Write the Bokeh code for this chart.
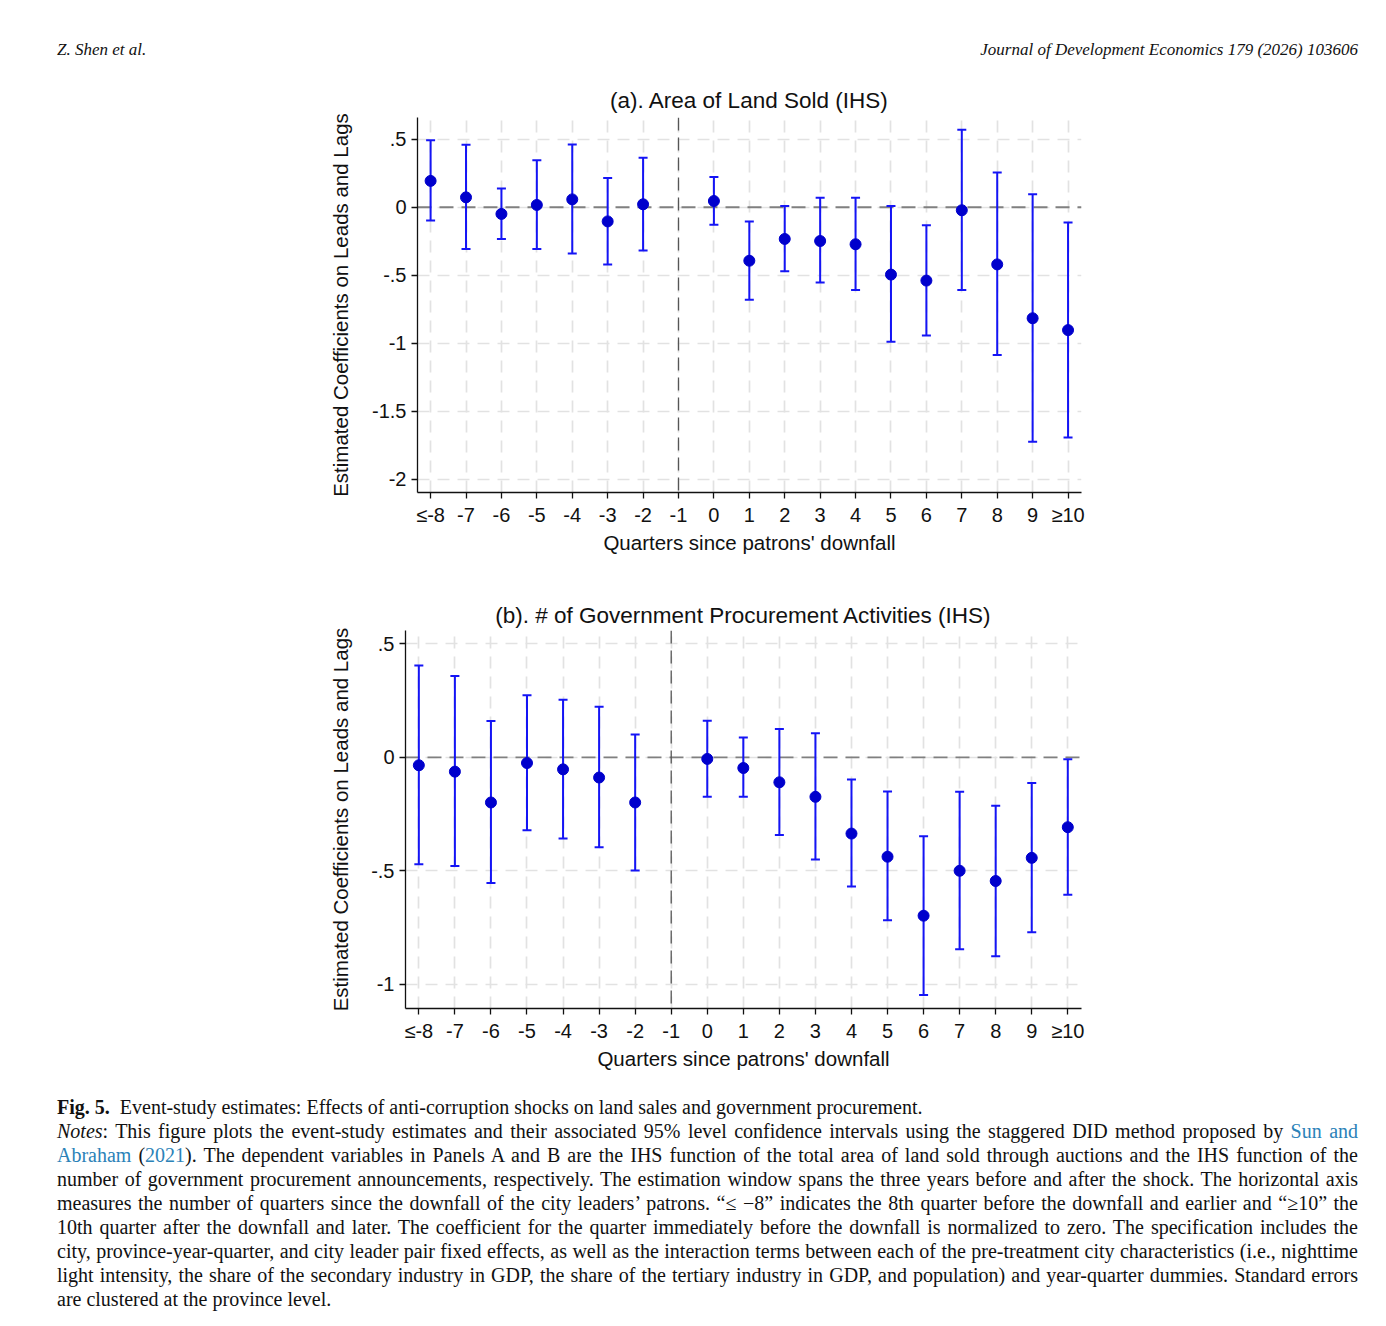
from bokeh.plotting import figure
from bokeh.models import Range1d, FixedTicker, ColumnDataSource, Span, Div, Spacer
from bokeh.layouts import column, row
from bokeh.embed import file_html
from bokeh.resources import INLINE

# ---------------- data ----------------
quarters = ["≤-8", "-7", "-6", "-5", "-4", "-3", "-2", "-1", "0", "1", "2",
            "3", "4", "5", "6", "7", "8", "9", "≥10"]

a_coef = [0.194, 0.073, -0.049, 0.017, 0.058, -0.104, 0.022, None, 0.046, -0.393,
          -0.233, -0.248, -0.272, -0.495, -0.539, -0.022, -0.420, -0.816, -0.903]
a_hi = [0.493, 0.459, 0.138, 0.345, 0.461, 0.216, 0.364, None, 0.223, -0.104,
        0.010, 0.070, 0.070, 0.010, -0.133, 0.570, 0.255, 0.095, -0.112]
a_lo = [-0.097, -0.306, -0.233, -0.306, -0.340, -0.420, -0.318, None, -0.129, -0.680,
        -0.471, -0.553, -0.609, -0.988, -0.942, -0.609, -1.087, -1.723, -1.692]

b_coef = [-0.035, -0.063, -0.199, -0.025, -0.053, -0.089, -0.199, None, -0.007, -0.047,
          -0.110, -0.174, -0.336, -0.438, -0.698, -0.500, -0.545, -0.443, -0.308]
b_hi = [0.405, 0.358, 0.160, 0.274, 0.254, 0.223, 0.101, None, 0.161, 0.087,
        0.125, 0.106, -0.098, -0.151, -0.348, -0.152, -0.213, -0.113, -0.009]
b_lo = [-0.471, -0.479, -0.554, -0.321, -0.358, -0.396, -0.499, None, -0.174, -0.174,
        -0.342, -0.450, -0.569, -0.718, -1.047, -0.846, -0.877, -0.771, -0.606]

a_yticks = [-2, -1.5, -1, -0.5, 0, 0.5]
a_ylabels = ["-2", "-1.5", "-1", "-.5", "0", ".5"]
b_yticks = [-1, -0.5, 0, 0.5]
b_ylabels = ["-1", "-.5", "0", ".5"]

title_a = "(a). Area of Land Sold (IHS)"
title_b = "(b). # of Government Procurement Activities (IHS)"
ylab = "Estimated Coefficients on Leads and Lags"
xlab = "Quarters since patrons' downfall"
ref_quarter = "-1"

FONT = "Liberation Sans"
MARK = "#0000cc"
BAR = "#1414f5"


def panel(title, coef, hi, lo, yticks, ylabels, yr, W, left, frame_w, top, bottom,
          frame_h, title_standoff, ylab_standoff):
    xs = [i for i, c in enumerate(coef) if c is not None]
    src = ColumnDataSource(dict(
        x=xs,
        y=[coef[i] for i in xs],
        hi=[hi[i] for i in xs],
        lo=[lo[i] for i in xs],
    ))
    p = figure(width=W, height=top + frame_h + bottom,
               x_range=Range1d(-0.37, len(quarters) - 1 + 0.38),
               y_range=Range1d(*yr),
               output_backend="svg", toolbar_location=None,
               min_border_left=left, min_border_right=W - left - frame_w,
               min_border_top=top, min_border_bottom=bottom)
    p.outline_line_color = None
    p.background_fill_color = "white"
    p.border_fill_color = "white"

    p.title.text = title
    p.title.align = "center"
    p.title.text_font = FONT
    p.title.text_font_size = "22.5px"
    p.title.text_font_style = "normal"
    p.title.text_color = "#111111"
    p.title.standoff = title_standoff

    # axes
    p.xaxis.ticker = FixedTicker(ticks=list(range(len(quarters))))
    p.xaxis.major_label_overrides = {i: q for i, q in enumerate(quarters)}
    p.yaxis.ticker = FixedTicker(ticks=yticks)
    p.yaxis.major_label_overrides = {t: l for t, l in zip(yticks, ylabels)}
    for ax in (p.xaxis, p.yaxis):
        ax.minor_tick_line_color = None
        ax.major_tick_in = 0
        ax.major_tick_out = 6
        ax.major_tick_line_color = "#111111"
        ax.major_tick_line_width = 1.3
        ax.axis_line_color = "#111111"
        ax.axis_line_width = 1.3
        ax.major_label_text_font = FONT
        ax.major_label_text_font_size = "20px"
        ax.major_label_text_color = "#111111"
        ax.axis_label_text_font = FONT
        ax.axis_label_text_font_size = "20.5px"
        ax.axis_label_text_font_style = "normal"
        ax.axis_label_text_color = "#111111"
    p.xaxis.axis_label = xlab
    p.yaxis.axis_label = ylab
    p.xaxis.major_label_standoff = 5
    p.xaxis.axis_label_standoff = 2
    p.yaxis.major_label_standoff = 5
    p.yaxis.axis_label_standoff = ylab_standoff

    for g in (p.xgrid, p.ygrid):
        g.grid_line_color = "#e2e2e2"
        g.grid_line_width = 1.7
        g.grid_line_dash = "12 8"
        g.level = "image"
    p.xgrid.ticker = FixedTicker(ticks=list(range(len(quarters))))
    p.ygrid.ticker = FixedTicker(ticks=yticks)

    p.add_layout(Span(location=0, dimension="width", line_color="#808080",
                      line_width=1.8, line_dash="14 8", level="underlay"))
    p.add_layout(Span(location=quarters.index(ref_quarter), dimension="height",
                      line_color="#555555", line_width=1.3, line_dash="13 7",
                      level="underlay"))

    p.segment(x0="x", y0="lo", x1="x", y1="hi", source=src,
              line_color=BAR, line_width=2)
    p.scatter(x="x", y="hi", source=src, marker="dash", size=9,
              line_color=BAR, line_width=2)
    p.scatter(x="x", y="lo", source=src, marker="dash", size=9,
              line_color=BAR, line_width=2)
    p.scatter(x="x", y="y", source=src, marker="circle", size=11,
              fill_color=MARK, line_color=MARK)
    return p


PAGE_W = 1378
SHIFT_A = 12
pa = panel(title_a, a_coef, a_hi, a_lo, a_yticks, a_ylabels, (-2.097, 0.66),
           W=PAGE_W - SHIFT_A, left=405, frame_w=664, top=47, bottom=83,
           frame_h=375, title_standoff=9, ylab_standoff=17)
pb = panel(title_b, b_coef, b_hi, b_lo, b_yticks, b_ylabels, (-1.107, 0.559),
           W=PAGE_W, left=405, frame_w=676, top=55, bottom=77,
           frame_h=378, title_standoff=6, ylab_standoff=16)

header = Div(width=PAGE_W, height=70, margin=0, text=(
    "<div style='position:relative;width:1378px;height:70px;"
    "font-family:\"Liberation Serif\";font-style:italic;font-size:17px;color:#111;'>"
    "<div style='position:absolute;left:57px;top:38px;'>Z. Shen et al.</div>"
    "<div style='position:absolute;right:20px;top:38px;'>Journal of Development Economics 179 (2026) 103606</div>"
    "</div>"))

LINK = "#2b82b8"
cap_lines = [
    ("<b>Fig. 5.</b>&nbsp; Event-study estimates: Effects of anti-corruption shocks on land sales and government procurement.", False),
    ("<i>Notes</i>: This figure plots the event-study estimates and their associated 95% level confidence intervals using the staggered DID method proposed by "
     f"<span style='color:{LINK}'>Sun and</span>", True),
    (f"<span style='color:{LINK}'>Abraham</span> (<span style='color:{LINK}'>2021</span>). The dependent variables in Panels A and B are the IHS function of the total area of land sold through auctions and the IHS function of the", True),
    ("number of government procurement announcements, respectively. The estimation window spans the three years before and after the shock. The horizontal axis", True),
    ("measures the number of quarters since the downfall of the city leaders’ patrons. “≤ −8” indicates the 8th quarter before the downfall and earlier and “≥10” the", True),
    ("10th quarter after the downfall and later. The coefficient for the quarter immediately before the downfall is normalized to zero. The specification includes the", True),
    ("city, province-year-quarter, and city leader pair fixed effects, as well as the interaction terms between each of the pre-treatment city characteristics (i.e., nighttime", True),
    ("light intensity, the share of the secondary industry in GDP, the share of the tertiary industry in GDP, and population) and year-quarter dummies. Standard errors", True),
    ("are clustered at the province level.", False),
]
cap_html = ["<div style='padding-left:57px;padding-top:10px;width:1301px;"
            "font-family:\"Liberation Serif\";font-size:20px;color:#111;'>"]
for txt, just in cap_lines:
    al = "justify" if just else "left"
    cap_html.append(f"<div style='white-space:nowrap;height:24px;line-height:24px;"
                    f"text-align:justify;text-align-last:{al};width:1301px;'>{txt}</div>")
cap_html.append("</div>")
caption = Div(width=PAGE_W, height=232, margin=0, text="".join(cap_html))

layout = column(header, row(Spacer(width=SHIFT_A, height=10), pa), pb, caption, spacing=0)
open("out.html", "w").write(file_html(layout, INLINE))
